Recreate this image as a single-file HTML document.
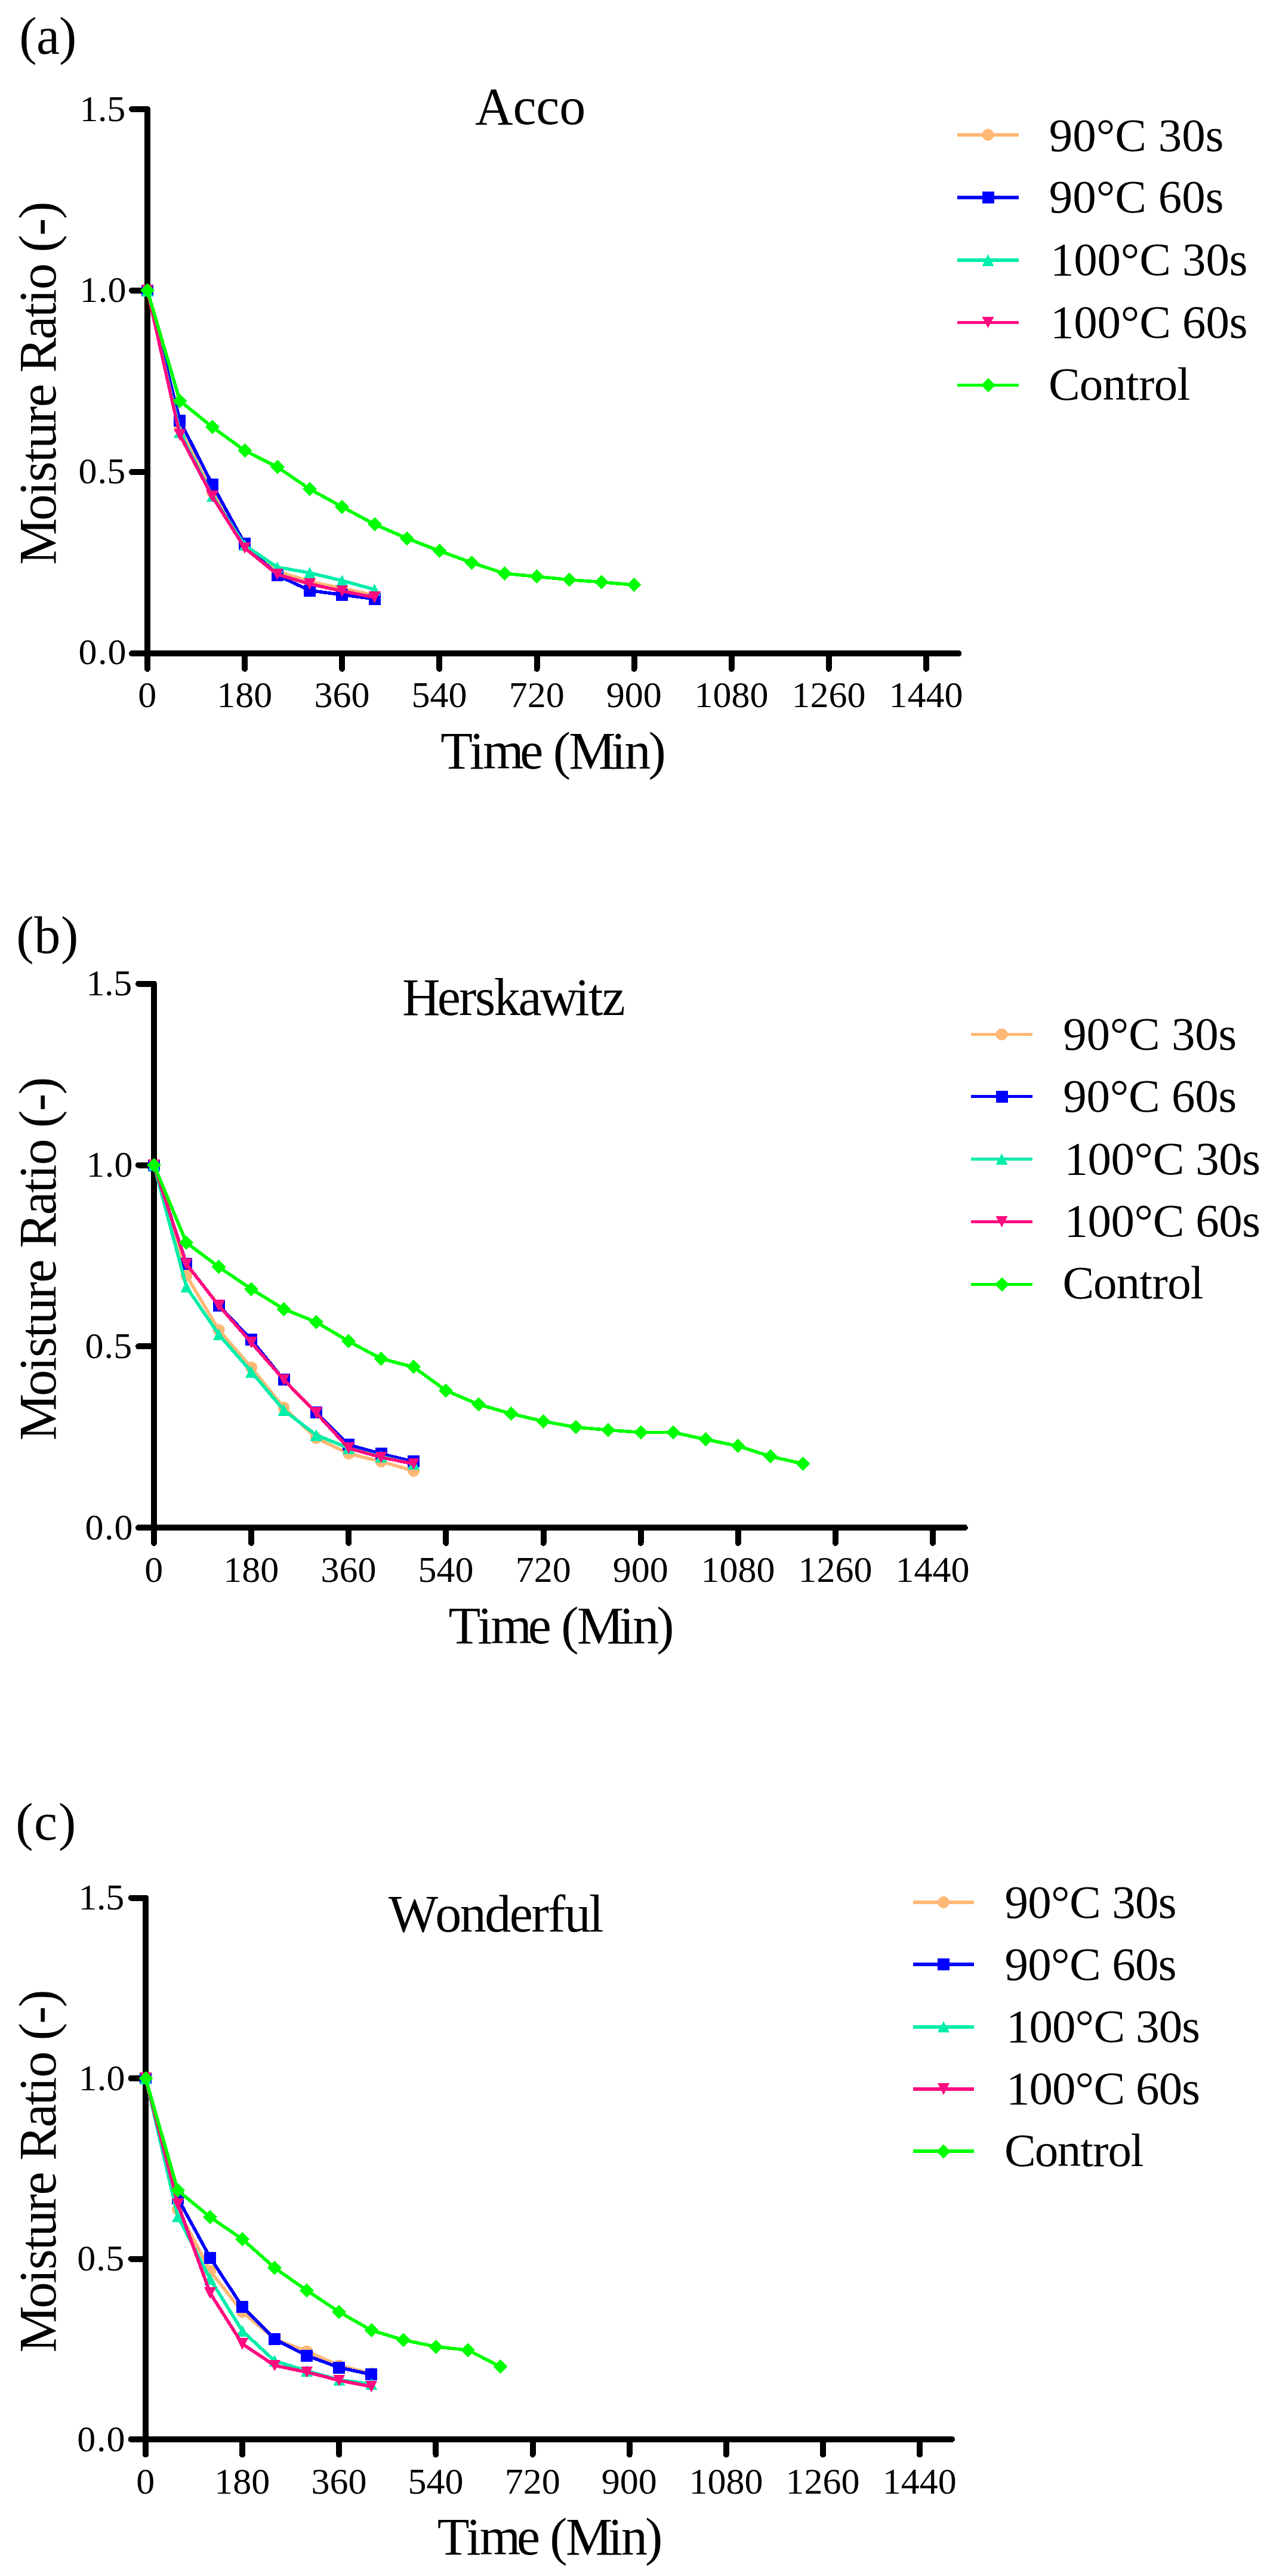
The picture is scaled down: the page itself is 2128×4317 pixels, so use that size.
<!DOCTYPE html>
<html><head><meta charset="utf-8"><title>Moisture Ratio</title>
<style>
html,body{margin:0;padding:0;background:#fff}
svg{display:block}
circle,polygon,rect{shape-rendering:crispEdges}
text{font-family:"Liberation Serif",serif;fill:#000;white-space:pre}
.ax{shape-rendering:crispEdges;stroke:#000;stroke-width:10;stroke-linecap:round;stroke-linejoin:round;fill:none}
.tl{font-size:62px}
.big{font-size:88px}
.lg{font-size:79px}
.ln{shape-rendering:crispEdges;fill:none;stroke-width:5.6;stroke-linejoin:round;stroke-linecap:butt}
</style></head><body>
<svg width="2128" height="4317" viewBox="0 0 2128 4317">
<rect width="2128" height="4317" fill="#fff"/>

<g><!-- panel (a) -->
<path class="ax" d="M221.0,182.8 H247.0 V1095.1"/>
<path class="ax" d="M221.0,1095.1 H1606.4"/>
<path class="ax" d="M221.0,791.0 H247.0"/>
<path class="ax" d="M221.0,486.9 H247.0"/>
<path class="ax" d="M247.0,1095.1 V1120.8"/>
<path class="ax" d="M410.1,1095.1 V1120.8"/>
<path class="ax" d="M573.2,1095.1 V1120.8"/>
<path class="ax" d="M736.3,1095.1 V1120.8"/>
<path class="ax" d="M899.5,1095.1 V1120.8"/>
<path class="ax" d="M1062.6,1095.1 V1120.8"/>
<path class="ax" d="M1225.7,1095.1 V1120.8"/>
<path class="ax" d="M1388.8,1095.1 V1120.8"/>
<path class="ax" d="M1551.9,1095.1 V1120.8"/>
<text class="tl" transform="scale(1.0000,1)" x="131.4 164.1 180.5" y="1113.4">0.0</text>
<text class="tl" transform="scale(1.0000,1)" x="131.4 163.4 179.3" y="810.0">0.5</text>
<text class="tl" transform="scale(1.0000,1)" x="133.5 164.8 180.5" y="505.8">1.0</text>
<text class="tl" transform="scale(1.0000,1)" x="133.5 164.0 179.3" y="202.6">1.5</text>
<text class="tl" x="246.7" y="1185.3" text-anchor="middle">0</text>
<text class="tl" x="409.8" y="1185.3" text-anchor="middle">180</text>
<text class="tl" x="572.9" y="1185.3" text-anchor="middle">360</text>
<text class="tl" x="736.0" y="1185.3" text-anchor="middle">540</text>
<text class="tl" x="899.2" y="1185.3" text-anchor="middle">720</text>
<text class="tl" x="1062.3" y="1185.3" text-anchor="middle">900</text>
<text class="tl" x="1225.4" y="1185.3" text-anchor="middle">1080</text>
<text class="tl" x="1388.5" y="1185.3" text-anchor="middle">1260</text>
<text class="tl" x="1551.6" y="1185.3" text-anchor="middle">1440</text>
<text class="big" transform="scale(1.0000,1)" x="32.3 60.9 99.0" y="89.6">(a)</text>
<text class="big" x="796.1" y="208.0" textLength="185.1" lengthAdjust="spacing">Acco</text>
<text class="big" transform="scale(1.0000,1)" x="738.2 787.0 809.2 871.3 906.7 926.7 953.3 1024.3 1046.4 1086.4" y="1287.8">Time (Min)</text>
<text class="big" transform="translate(93.3,944.1) rotate(-90) scale(1.0000,1)" x="-2.5 71.7 113.4 136.6 169.1 192.3 234.0 261.8 298.8 319.7 375.4 412.4 435.6 458.8 500.5 521.4 549.2 577.0" y="0">Moisture Ratio (-)</text>
<path class="ln" stroke="#FFB876" d="M247.0,486.9 L301.4,718.0 L355.7,824.5 L410.1,912.6 L464.5,957.0 L518.9,974.7 L573.2,985.6 L627.6,997.8"/>
<circle cx="247.0" cy="486.9" r="10.0" fill="#FFB876"/><circle cx="301.4" cy="718.0" r="10.0" fill="#FFB876"/><circle cx="355.7" cy="824.5" r="10.0" fill="#FFB876"/><circle cx="410.1" cy="912.6" r="10.0" fill="#FFB876"/><circle cx="464.5" cy="957.0" r="10.0" fill="#FFB876"/><circle cx="518.9" cy="974.7" r="10.0" fill="#FFB876"/><circle cx="573.2" cy="985.6" r="10.0" fill="#FFB876"/><circle cx="627.6" cy="997.8" r="10.0" fill="#FFB876"/>
<path class="ln" stroke="#0000FF" d="M247.0,486.9 L301.4,705.1 L355.7,811.9 L410.1,911.2 L464.5,963.9 L518.9,989.6 L573.2,996.7 L627.6,1003.7"/>
<rect x="237.0" y="476.9" width="20.0" height="20.0" fill="#0000FF"/><rect x="291.4" y="695.1" width="20.0" height="20.0" fill="#0000FF"/><rect x="345.7" y="801.9" width="20.0" height="20.0" fill="#0000FF"/><rect x="400.1" y="901.2" width="20.0" height="20.0" fill="#0000FF"/><rect x="454.5" y="953.9" width="20.0" height="20.0" fill="#0000FF"/><rect x="508.9" y="979.6" width="20.0" height="20.0" fill="#0000FF"/><rect x="563.2" y="986.7" width="20.0" height="20.0" fill="#0000FF"/><rect x="617.6" y="993.7" width="20.0" height="20.0" fill="#0000FF"/>
<path class="ln" stroke="#00EDAA" d="M247.0,486.9 L301.4,723.9 L355.7,831.6 L410.1,913.6 L464.5,950.5 L518.9,960.0 L573.2,973.0 L627.6,988.0"/>
<polygon points="247.0,477.2 257.0,496.6 237.0,496.6" fill="#00EDAA"/><polygon points="301.4,714.2 311.4,733.6 291.4,733.6" fill="#00EDAA"/><polygon points="355.7,821.9 365.7,841.3 345.7,841.3" fill="#00EDAA"/><polygon points="410.1,903.9 420.1,923.3 400.1,923.3" fill="#00EDAA"/><polygon points="464.5,940.8 474.5,960.2 454.5,960.2" fill="#00EDAA"/><polygon points="518.9,950.3 528.9,969.7 508.9,969.7" fill="#00EDAA"/><polygon points="573.2,963.3 583.2,982.7 563.2,982.7" fill="#00EDAA"/><polygon points="627.6,978.3 637.6,997.7 617.6,997.7" fill="#00EDAA"/>
<path class="ln" stroke="#FF0C80" d="M247.0,486.9 L301.4,729.1 L355.7,832.0 L410.1,918.4 L464.5,962.5 L518.9,978.6 L573.2,990.5 L627.6,1001.1"/>
<polygon points="247.0,496.6 257.0,477.2 237.0,477.2" fill="#FF0C80"/><polygon points="301.4,738.8 311.4,719.4 291.4,719.4" fill="#FF0C80"/><polygon points="355.7,841.7 365.7,822.3 345.7,822.3" fill="#FF0C80"/><polygon points="410.1,928.1 420.1,908.7 400.1,908.7" fill="#FF0C80"/><polygon points="464.5,972.2 474.5,952.8 454.5,952.8" fill="#FF0C80"/><polygon points="518.9,988.3 528.9,968.9 508.9,968.9" fill="#FF0C80"/><polygon points="573.2,1000.2 583.2,980.8 563.2,980.8" fill="#FF0C80"/><polygon points="627.6,1010.8 637.6,991.4 617.6,991.4" fill="#FF0C80"/>
<path class="ln" stroke="#00FF00" d="M247.0,486.9 L301.4,671.8 L355.7,715.6 L410.1,755.1 L464.5,782.5 L518.9,819.6 L573.2,849.4 L627.6,878.6 L682.0,902.3 L736.3,923.2 L790.7,943.0 L845.1,961.0 L899.5,966.2 L953.8,971.6 L1008.2,975.6 L1062.6,980.3"/>
<polygon points="247.0,474.9 259.0,486.9 247.0,498.9 235.0,486.9" fill="#00FF00"/><polygon points="301.4,659.8 313.4,671.8 301.4,683.8 289.4,671.8" fill="#00FF00"/><polygon points="355.7,703.6 367.7,715.6 355.7,727.6 343.7,715.6" fill="#00FF00"/><polygon points="410.1,743.1 422.1,755.1 410.1,767.1 398.1,755.1" fill="#00FF00"/><polygon points="464.5,770.5 476.5,782.5 464.5,794.5 452.5,782.5" fill="#00FF00"/><polygon points="518.9,807.6 530.9,819.6 518.9,831.6 506.9,819.6" fill="#00FF00"/><polygon points="573.2,837.4 585.2,849.4 573.2,861.4 561.2,849.4" fill="#00FF00"/><polygon points="627.6,866.6 639.6,878.6 627.6,890.6 615.6,878.6" fill="#00FF00"/><polygon points="682.0,890.3 694.0,902.3 682.0,914.3 670.0,902.3" fill="#00FF00"/><polygon points="736.3,911.2 748.3,923.2 736.3,935.2 724.3,923.2" fill="#00FF00"/><polygon points="790.7,931.0 802.7,943.0 790.7,955.0 778.7,943.0" fill="#00FF00"/><polygon points="845.1,949.0 857.1,961.0 845.1,973.0 833.1,961.0" fill="#00FF00"/><polygon points="899.5,954.2 911.5,966.2 899.5,978.2 887.5,966.2" fill="#00FF00"/><polygon points="953.8,959.6 965.8,971.6 953.8,983.6 941.8,971.6" fill="#00FF00"/><polygon points="1008.2,963.6 1020.2,975.6 1008.2,987.6 996.2,975.6" fill="#00FF00"/><polygon points="1062.6,968.3 1074.6,980.3 1062.6,992.3 1050.6,980.3" fill="#00FF00"/>
<path class="ln" stroke="#FFB876" style="stroke-width:6px" d="M1604,226 H1707"/>
<circle cx="1655.5" cy="226.0" r="10.0" fill="#FFB876"/>
<text class="lg" x="1757.7" y="252.5" textLength="292.9" lengthAdjust="spacing">90°C 30s</text>
<path class="ln" stroke="#0000FF" style="stroke-width:6px" d="M1604,331 H1707"/>
<rect x="1645.5" y="321.0" width="20.0" height="20.0" fill="#0000FF"/>
<text class="lg" x="1757.7" y="356.4" textLength="292.9" lengthAdjust="spacing">90°C 60s</text>
<path class="ln" stroke="#00EDAA" style="stroke-width:6px" d="M1604,436 H1707"/>
<polygon points="1655.5,426.3 1665.5,445.7 1645.5,445.7" fill="#00EDAA"/>
<text class="lg" x="1760.0" y="461.0" textLength="330.4" lengthAdjust="spacing">100°C 30s</text>
<path class="ln" stroke="#FF0C80" style="stroke-width:5px" d="M1604,540.5 H1707"/>
<polygon points="1655.5,550.2 1665.5,530.8 1645.5,530.8" fill="#FF0C80"/>
<text class="lg" x="1760.0" y="565.8" textLength="330.4" lengthAdjust="spacing">100°C 60s</text>
<path class="ln" stroke="#00FF00" style="stroke-width:5px" d="M1604,645.5 H1707"/>
<polygon points="1655.5,633.5 1667.5,645.5 1655.5,657.5 1643.5,645.5" fill="#00FF00"/>
<text class="lg" transform="scale(1.0000,1)" x="1757.0 1808.7 1847.6 1886.4 1908.0 1933.8 1972.6" y="670.4">Control</text>
</g>
<g><!-- panel (b) -->
<path class="ax" d="M232.0,1648.7 H258.0 V2560.1"/>
<path class="ax" d="M232.0,2560.1 H1616.8"/>
<path class="ax" d="M232.0,2256.3 H258.0"/>
<path class="ax" d="M232.0,1952.5 H258.0"/>
<path class="ax" d="M258.0,2560.1 V2585.8"/>
<path class="ax" d="M421.1,2560.1 V2585.8"/>
<path class="ax" d="M584.2,2560.1 V2585.8"/>
<path class="ax" d="M747.3,2560.1 V2585.8"/>
<path class="ax" d="M910.5,2560.1 V2585.8"/>
<path class="ax" d="M1073.6,2560.1 V2585.8"/>
<path class="ax" d="M1236.7,2560.1 V2585.8"/>
<path class="ax" d="M1399.8,2560.1 V2585.8"/>
<path class="ax" d="M1562.9,2560.1 V2585.8"/>
<text class="tl" transform="scale(1.0000,1)" x="142.4 175.1 191.5" y="2579.8">0.0</text>
<text class="tl" transform="scale(1.0000,1)" x="142.4 174.4 190.3" y="2276.0">0.5</text>
<text class="tl" transform="scale(1.0000,1)" x="144.5 175.8 191.5" y="1972.2">1.0</text>
<text class="tl" transform="scale(1.0000,1)" x="144.5 175.0 190.3" y="1668.4">1.5</text>
<text class="tl" x="257.7" y="2651.1" text-anchor="middle">0</text>
<text class="tl" x="420.8" y="2651.1" text-anchor="middle">180</text>
<text class="tl" x="583.9" y="2651.1" text-anchor="middle">360</text>
<text class="tl" x="747.0" y="2651.1" text-anchor="middle">540</text>
<text class="tl" x="910.2" y="2651.1" text-anchor="middle">720</text>
<text class="tl" x="1073.3" y="2651.1" text-anchor="middle">900</text>
<text class="tl" x="1236.4" y="2651.1" text-anchor="middle">1080</text>
<text class="tl" x="1399.5" y="2651.1" text-anchor="middle">1260</text>
<text class="tl" x="1562.6" y="2651.1" text-anchor="middle">1440</text>
<text class="big" transform="scale(1.0000,1)" x="27.3 57.2 102.1" y="1596.5">(b)</text>
<text class="big" transform="scale(1.0000,1)" x="673.9 732.7 768.9 796.0 827.7 868.5 904.7 963.5 986.1 1008.8" y="1700.5">Herskawitz</text>
<text class="big" transform="scale(1.0000,1)" x="751.6 800.4 822.6 884.8 920.3 940.3 966.9 1038.0 1060.2 1100.2" y="2753.9">Time (Min)</text>
<text class="big" transform="translate(93.3,2411.5) rotate(-90) scale(1.0000,1)" x="-2.5 71.7 113.5 136.7 169.2 192.4 234.1 261.9 299.0 319.9 375.6 412.6 435.8 459.0 500.8 521.6 549.5 577.3" y="0">Moisture Ratio (-)</text>
<path class="ln" stroke="#FFB876" d="M258.0,1952.5 L312.4,2137.5 L366.7,2229.0 L421.1,2291.7 L475.5,2359.0 L529.9,2410.0 L584.2,2436.0 L638.6,2449.3 L693.0,2464.9"/>
<circle cx="258.0" cy="1952.5" r="10.0" fill="#FFB876"/><circle cx="312.4" cy="2137.5" r="10.0" fill="#FFB876"/><circle cx="366.7" cy="2229.0" r="10.0" fill="#FFB876"/><circle cx="421.1" cy="2291.7" r="10.0" fill="#FFB876"/><circle cx="475.5" cy="2359.0" r="10.0" fill="#FFB876"/><circle cx="529.9" cy="2410.0" r="10.0" fill="#FFB876"/><circle cx="584.2" cy="2436.0" r="10.0" fill="#FFB876"/><circle cx="638.6" cy="2449.3" r="10.0" fill="#FFB876"/><circle cx="693.0" cy="2464.9" r="10.0" fill="#FFB876"/>
<path class="ln" stroke="#0000FF" d="M258.0,1952.5 L312.4,2118.2 L366.7,2188.1 L421.1,2245.2 L475.5,2312.4 L529.9,2367.2 L584.2,2421.4 L638.6,2436.4 L693.0,2449.4"/>
<rect x="248.0" y="1942.5" width="20.0" height="20.0" fill="#0000FF"/><rect x="302.4" y="2108.2" width="20.0" height="20.0" fill="#0000FF"/><rect x="356.7" y="2178.1" width="20.0" height="20.0" fill="#0000FF"/><rect x="411.1" y="2235.2" width="20.0" height="20.0" fill="#0000FF"/><rect x="465.5" y="2302.4" width="20.0" height="20.0" fill="#0000FF"/><rect x="519.9" y="2357.2" width="20.0" height="20.0" fill="#0000FF"/><rect x="574.2" y="2411.4" width="20.0" height="20.0" fill="#0000FF"/><rect x="628.6" y="2426.4" width="20.0" height="20.0" fill="#0000FF"/><rect x="683.0" y="2439.4" width="20.0" height="20.0" fill="#0000FF"/>
<path class="ln" stroke="#00EDAA" d="M258.0,1952.5 L312.4,2156.7 L366.7,2236.6 L421.1,2298.8 L475.5,2363.2 L529.9,2404.9 L584.2,2426.8 L638.6,2441.0 L693.0,2453.3"/>
<polygon points="258.0,1942.8 268.0,1962.2 248.0,1962.2" fill="#00EDAA"/><polygon points="312.4,2147.0 322.4,2166.4 302.4,2166.4" fill="#00EDAA"/><polygon points="366.7,2226.9 376.7,2246.3 356.7,2246.3" fill="#00EDAA"/><polygon points="421.1,2289.1 431.1,2308.5 411.1,2308.5" fill="#00EDAA"/><polygon points="475.5,2353.5 485.5,2372.9 465.5,2372.9" fill="#00EDAA"/><polygon points="529.9,2395.2 539.9,2414.6 519.9,2414.6" fill="#00EDAA"/><polygon points="584.2,2417.1 594.2,2436.5 574.2,2436.5" fill="#00EDAA"/><polygon points="638.6,2431.3 648.6,2450.7 628.6,2450.7" fill="#00EDAA"/><polygon points="693.0,2443.6 703.0,2463.0 683.0,2463.0" fill="#00EDAA"/>
<path class="ln" stroke="#FF0C80" d="M258.0,1952.5 L312.4,2118.4 L366.7,2188.1 L421.1,2249.9 L475.5,2312.2 L529.9,2368.1 L584.2,2427.0 L638.6,2442.2 L693.0,2453.2"/>
<polygon points="258.0,1962.2 268.0,1942.8 248.0,1942.8" fill="#FF0C80"/><polygon points="312.4,2128.1 322.4,2108.7 302.4,2108.7" fill="#FF0C80"/><polygon points="366.7,2197.8 376.7,2178.4 356.7,2178.4" fill="#FF0C80"/><polygon points="421.1,2259.6 431.1,2240.2 411.1,2240.2" fill="#FF0C80"/><polygon points="475.5,2321.9 485.5,2302.5 465.5,2302.5" fill="#FF0C80"/><polygon points="529.9,2377.8 539.9,2358.4 519.9,2358.4" fill="#FF0C80"/><polygon points="584.2,2436.7 594.2,2417.3 574.2,2417.3" fill="#FF0C80"/><polygon points="638.6,2451.9 648.6,2432.5 628.6,2432.5" fill="#FF0C80"/><polygon points="693.0,2462.9 703.0,2443.5 683.0,2443.5" fill="#FF0C80"/>
<path class="ln" stroke="#00FF00" d="M258.0,1952.5 L312.4,2082.5 L366.7,2123.2 L421.1,2160.3 L475.5,2193.7 L529.9,2215.6 L584.2,2247.8 L638.6,2277.0 L693.0,2290.9 L747.3,2330.4 L801.7,2353.5 L856.1,2369.1 L910.5,2381.9 L964.8,2391.8 L1019.2,2396.5 L1073.6,2400.5 L1128.0,2400.5 L1182.3,2412.2 L1236.7,2423.3 L1291.1,2440.8 L1345.4,2453.0"/>
<polygon points="258.0,1940.5 270.0,1952.5 258.0,1964.5 246.0,1952.5" fill="#00FF00"/><polygon points="312.4,2070.5 324.4,2082.5 312.4,2094.5 300.4,2082.5" fill="#00FF00"/><polygon points="366.7,2111.2 378.7,2123.2 366.7,2135.2 354.7,2123.2" fill="#00FF00"/><polygon points="421.1,2148.3 433.1,2160.3 421.1,2172.3 409.1,2160.3" fill="#00FF00"/><polygon points="475.5,2181.7 487.5,2193.7 475.5,2205.7 463.5,2193.7" fill="#00FF00"/><polygon points="529.9,2203.6 541.9,2215.6 529.9,2227.6 517.9,2215.6" fill="#00FF00"/><polygon points="584.2,2235.8 596.2,2247.8 584.2,2259.8 572.2,2247.8" fill="#00FF00"/><polygon points="638.6,2265.0 650.6,2277.0 638.6,2289.0 626.6,2277.0" fill="#00FF00"/><polygon points="693.0,2278.9 705.0,2290.9 693.0,2302.9 681.0,2290.9" fill="#00FF00"/><polygon points="747.3,2318.4 759.3,2330.4 747.3,2342.4 735.3,2330.4" fill="#00FF00"/><polygon points="801.7,2341.5 813.7,2353.5 801.7,2365.5 789.7,2353.5" fill="#00FF00"/><polygon points="856.1,2357.1 868.1,2369.1 856.1,2381.1 844.1,2369.1" fill="#00FF00"/><polygon points="910.5,2369.9 922.5,2381.9 910.5,2393.9 898.5,2381.9" fill="#00FF00"/><polygon points="964.8,2379.8 976.8,2391.8 964.8,2403.8 952.8,2391.8" fill="#00FF00"/><polygon points="1019.2,2384.5 1031.2,2396.5 1019.2,2408.5 1007.2,2396.5" fill="#00FF00"/><polygon points="1073.6,2388.5 1085.6,2400.5 1073.6,2412.5 1061.6,2400.5" fill="#00FF00"/><polygon points="1128.0,2388.5 1140.0,2400.5 1128.0,2412.5 1116.0,2400.5" fill="#00FF00"/><polygon points="1182.3,2400.2 1194.3,2412.2 1182.3,2424.2 1170.3,2412.2" fill="#00FF00"/><polygon points="1236.7,2411.3 1248.7,2423.3 1236.7,2435.3 1224.7,2423.3" fill="#00FF00"/><polygon points="1291.1,2428.8 1303.1,2440.8 1291.1,2452.8 1279.1,2440.8" fill="#00FF00"/><polygon points="1345.4,2441.0 1357.4,2453.0 1345.4,2465.0 1333.4,2453.0" fill="#00FF00"/>
<path class="ln" stroke="#FFB876" style="stroke-width:5px" d="M1627,1733.5 H1730"/>
<circle cx="1678.5" cy="1733.5" r="10.0" fill="#FFB876"/>
<text class="lg" x="1781.3" y="1758.6" textLength="291.0" lengthAdjust="spacing">90°C 30s</text>
<path class="ln" stroke="#0000FF" style="stroke-width:5px" d="M1627,1837.5 H1730"/>
<rect x="1668.5" y="1827.5" width="20.0" height="20.0" fill="#0000FF"/>
<text class="lg" x="1781.3" y="1863.0" textLength="291.0" lengthAdjust="spacing">90°C 60s</text>
<path class="ln" stroke="#00EDAA" style="stroke-width:5px" d="M1627,1942.5 H1730"/>
<polygon points="1678.5,1932.8 1688.5,1952.2 1668.5,1952.2" fill="#00EDAA"/>
<text class="lg" x="1783.6" y="1967.5" textLength="328.3" lengthAdjust="spacing">100°C 30s</text>
<path class="ln" stroke="#FF0C80" style="stroke-width:5px" d="M1627,2047.5 H1730"/>
<polygon points="1678.5,2057.2 1688.5,2037.8 1668.5,2037.8" fill="#FF0C80"/>
<text class="lg" x="1783.6" y="2071.9" textLength="328.3" lengthAdjust="spacing">100°C 60s</text>
<path class="ln" stroke="#00FF00" style="stroke-width:5px" d="M1627,2152.5 H1730"/>
<polygon points="1678.5,2140.5 1690.5,2152.5 1678.5,2164.5 1666.5,2152.5" fill="#00FF00"/>
<text class="lg" transform="scale(1.0000,1)" x="1780.6 1832.0 1870.6 1909.1 1930.6 1956.3 1994.8" y="2176.4">Control</text>
</g>
<g><!-- panel (c) -->
<path class="ax" d="M219.5,3180.6 H244.0 V4087.9"/>
<path class="ax" d="M219.5,4087.9 H1594.9"/>
<path class="ax" d="M219.5,3785.5 H244.0"/>
<path class="ax" d="M219.5,3483.0 H244.0"/>
<path class="ax" d="M244.0,4087.9 V4113.6"/>
<path class="ax" d="M406.1,4087.9 V4113.6"/>
<path class="ax" d="M568.3,4087.9 V4113.6"/>
<path class="ax" d="M730.4,4087.9 V4113.6"/>
<path class="ax" d="M892.5,4087.9 V4113.6"/>
<path class="ax" d="M1054.6,4087.9 V4113.6"/>
<path class="ax" d="M1216.8,4087.9 V4113.6"/>
<path class="ax" d="M1378.9,4087.9 V4113.6"/>
<path class="ax" d="M1541.0,4087.9 V4113.6"/>
<text class="tl" transform="scale(1.0000,1)" x="129.3 162.0 178.4" y="4107.7">0.0</text>
<text class="tl" transform="scale(1.0000,1)" x="129.3 161.3 177.2" y="3805.3">0.5</text>
<text class="tl" transform="scale(1.0000,1)" x="131.4 162.7 178.4" y="3502.8">1.0</text>
<text class="tl" transform="scale(1.0000,1)" x="131.4 161.9 177.2" y="3200.4">1.5</text>
<text class="tl" x="243.7" y="4178.5" text-anchor="middle">0</text>
<text class="tl" x="405.8" y="4178.5" text-anchor="middle">180</text>
<text class="tl" x="568.0" y="4178.5" text-anchor="middle">360</text>
<text class="tl" x="730.1" y="4178.5" text-anchor="middle">540</text>
<text class="tl" x="892.2" y="4178.5" text-anchor="middle">720</text>
<text class="tl" x="1054.3" y="4178.5" text-anchor="middle">900</text>
<text class="tl" x="1216.5" y="4178.5" text-anchor="middle">1080</text>
<text class="tl" x="1378.6" y="4178.5" text-anchor="middle">1260</text>
<text class="tl" x="1540.7" y="4178.5" text-anchor="middle">1440</text>
<text class="big" transform="scale(1.0000,1)" x="26.3 57.1 98.1" y="3083.3">(c)</text>
<text class="big" transform="scale(1.0000,1)" x="651.1 729.3 770.8 812.2 853.7 890.5 918.1 945.7 987.1" y="3237.4">Wonderful</text>
<text class="big" transform="scale(1.0000,1)" x="732.8 781.6 803.8 865.9 901.3 921.3 947.9 1018.9 1041.0 1081.0" y="4280.9">Time (Min)</text>
<text class="big" transform="translate(93.3,3940.0) rotate(-90) scale(1.0000,1)" x="-2.5 71.6 113.3 136.4 168.9 192.0 233.7 261.5 298.5 319.3 374.9 411.9 435.1 458.2 499.9 520.7 548.5 576.3" y="0">Moisture Ratio (-)</text>
<path class="ln" stroke="#FFB876" d="M244.0,3483.0 L298.0,3702.8 L352.1,3805.5 L406.1,3874.6 L460.2,3919.7 L514.2,3940.5 L568.3,3964.4 L622.3,3977.4"/>
<circle cx="244.0" cy="3483.0" r="10.0" fill="#FFB876"/><circle cx="298.0" cy="3702.8" r="10.0" fill="#FFB876"/><circle cx="352.1" cy="3805.5" r="10.0" fill="#FFB876"/><circle cx="406.1" cy="3874.6" r="10.0" fill="#FFB876"/><circle cx="460.2" cy="3919.7" r="10.0" fill="#FFB876"/><circle cx="514.2" cy="3940.5" r="10.0" fill="#FFB876"/><circle cx="568.3" cy="3964.4" r="10.0" fill="#FFB876"/><circle cx="622.3" cy="3977.4" r="10.0" fill="#FFB876"/>
<path class="ln" stroke="#0000FF" d="M244.0,3483.0 L298.0,3684.0 L352.1,3783.5 L406.1,3865.7 L460.2,3920.2 L514.2,3947.7 L568.3,3967.6 L622.3,3979.4"/>
<rect x="234.0" y="3473.0" width="20.0" height="20.0" fill="#0000FF"/><rect x="288.0" y="3674.0" width="20.0" height="20.0" fill="#0000FF"/><rect x="342.1" y="3773.5" width="20.0" height="20.0" fill="#0000FF"/><rect x="396.1" y="3855.7" width="20.0" height="20.0" fill="#0000FF"/><rect x="450.2" y="3910.2" width="20.0" height="20.0" fill="#0000FF"/><rect x="504.2" y="3937.7" width="20.0" height="20.0" fill="#0000FF"/><rect x="558.3" y="3957.6" width="20.0" height="20.0" fill="#0000FF"/><rect x="612.3" y="3969.4" width="20.0" height="20.0" fill="#0000FF"/>
<path class="ln" stroke="#00EDAA" d="M244.0,3483.0 L298.0,3714.6 L352.1,3819.2 L406.1,3906.4 L460.2,3956.6 L514.2,3973.3 L568.3,3988.3 L622.3,3995.3"/>
<polygon points="244.0,3473.3 254.0,3492.7 234.0,3492.7" fill="#00EDAA"/><polygon points="298.0,3704.9 308.0,3724.3 288.0,3724.3" fill="#00EDAA"/><polygon points="352.1,3809.5 362.1,3828.9 342.1,3828.9" fill="#00EDAA"/><polygon points="406.1,3896.7 416.1,3916.1 396.1,3916.1" fill="#00EDAA"/><polygon points="460.2,3946.9 470.2,3966.3 450.2,3966.3" fill="#00EDAA"/><polygon points="514.2,3963.6 524.2,3983.0 504.2,3983.0" fill="#00EDAA"/><polygon points="568.3,3978.6 578.3,3998.0 558.3,3998.0" fill="#00EDAA"/><polygon points="622.3,3985.6 632.3,4005.0 612.3,4005.0" fill="#00EDAA"/>
<path class="ln" stroke="#FF0C80" d="M244.0,3483.0 L298.0,3693.9 L352.1,3842.9 L406.1,3928.1 L460.2,3964.3 L514.2,3975.3 L568.3,3989.2 L622.3,3999.6"/>
<polygon points="244.0,3492.7 254.0,3473.3 234.0,3473.3" fill="#FF0C80"/><polygon points="298.0,3703.6 308.0,3684.2 288.0,3684.2" fill="#FF0C80"/><polygon points="352.1,3852.6 362.1,3833.2 342.1,3833.2" fill="#FF0C80"/><polygon points="406.1,3937.8 416.1,3918.4 396.1,3918.4" fill="#FF0C80"/><polygon points="460.2,3974.0 470.2,3954.6 450.2,3954.6" fill="#FF0C80"/><polygon points="514.2,3985.0 524.2,3965.6 504.2,3965.6" fill="#FF0C80"/><polygon points="568.3,3998.9 578.3,3979.5 558.3,3979.5" fill="#FF0C80"/><polygon points="622.3,4009.3 632.3,3989.9 612.3,3989.9" fill="#FF0C80"/>
<path class="ln" stroke="#00FF00" d="M244.0,3483.0 L298.0,3670.9 L352.1,3715.6 L406.1,3752.5 L460.2,3800.6 L514.2,3838.6 L568.3,3874.6 L622.3,3905.2 L676.3,3921.5 L730.4,3932.7 L784.4,3938.5 L838.5,3966.3"/>
<polygon points="244.0,3471.0 256.0,3483.0 244.0,3495.0 232.0,3483.0" fill="#00FF00"/><polygon points="298.0,3658.9 310.0,3670.9 298.0,3682.9 286.0,3670.9" fill="#00FF00"/><polygon points="352.1,3703.6 364.1,3715.6 352.1,3727.6 340.1,3715.6" fill="#00FF00"/><polygon points="406.1,3740.5 418.1,3752.5 406.1,3764.5 394.1,3752.5" fill="#00FF00"/><polygon points="460.2,3788.6 472.2,3800.6 460.2,3812.6 448.2,3800.6" fill="#00FF00"/><polygon points="514.2,3826.6 526.2,3838.6 514.2,3850.6 502.2,3838.6" fill="#00FF00"/><polygon points="568.3,3862.6 580.3,3874.6 568.3,3886.6 556.3,3874.6" fill="#00FF00"/><polygon points="622.3,3893.2 634.3,3905.2 622.3,3917.2 610.3,3905.2" fill="#00FF00"/><polygon points="676.3,3909.5 688.3,3921.5 676.3,3933.5 664.3,3921.5" fill="#00FF00"/><polygon points="730.4,3920.7 742.4,3932.7 730.4,3944.7 718.4,3932.7" fill="#00FF00"/><polygon points="784.4,3926.5 796.4,3938.5 784.4,3950.5 772.4,3938.5" fill="#00FF00"/><polygon points="838.5,3954.3 850.5,3966.3 838.5,3978.3 826.5,3966.3" fill="#00FF00"/>
<path class="ln" stroke="#FFB876" style="stroke-width:6px" d="M1530,3188 H1632"/>
<circle cx="1581.0" cy="3188.0" r="10.0" fill="#FFB876"/>
<text class="lg" transform="scale(1.0000,1)" x="1683.6 1722.3 1761.1 1792.1 1843.9 1863.3 1902.0 1940.8" y="3213.6">90°C 30s</text>
<path class="ln" stroke="#0000FF" style="stroke-width:6px" d="M1530,3292.3 H1632"/>
<rect x="1571.0" y="3282.3" width="20.0" height="20.0" fill="#0000FF"/>
<text class="lg" transform="scale(1.0000,1)" x="1683.6 1722.3 1761.1 1792.1 1843.9 1863.3 1902.0 1940.8" y="3317.7">90°C 60s</text>
<path class="ln" stroke="#00EDAA" style="stroke-width:6px" d="M1530,3396.6 H1632"/>
<polygon points="1581.0,3386.9 1591.0,3406.3 1571.0,3406.3" fill="#00EDAA"/>
<text class="lg" transform="scale(1.0000,1)" x="1685.9 1724.4 1763.0 1801.6 1832.4 1883.8 1903.1 1941.7 1980.3" y="3421.7">100°C 30s</text>
<path class="ln" stroke="#FF0C80" style="stroke-width:6px" d="M1530,3500.9 H1632"/>
<polygon points="1581.0,3510.6 1591.0,3491.2 1571.0,3491.2" fill="#FF0C80"/>
<text class="lg" transform="scale(1.0000,1)" x="1685.9 1724.4 1763.0 1801.6 1832.4 1883.8 1903.1 1941.7 1980.3" y="3525.8">100°C 60s</text>
<path class="ln" stroke="#00FF00" style="stroke-width:6px" d="M1530,3605.2 H1632"/>
<polygon points="1581.0,3593.2 1593.0,3605.2 1581.0,3617.2 1569.0,3605.2" fill="#00FF00"/>
<text class="lg" transform="scale(1.0000,1)" x="1682.9 1733.7 1771.8 1809.9 1831.1 1856.5 1894.6" y="3629.8">Control</text>
</g>
</svg></body></html>
